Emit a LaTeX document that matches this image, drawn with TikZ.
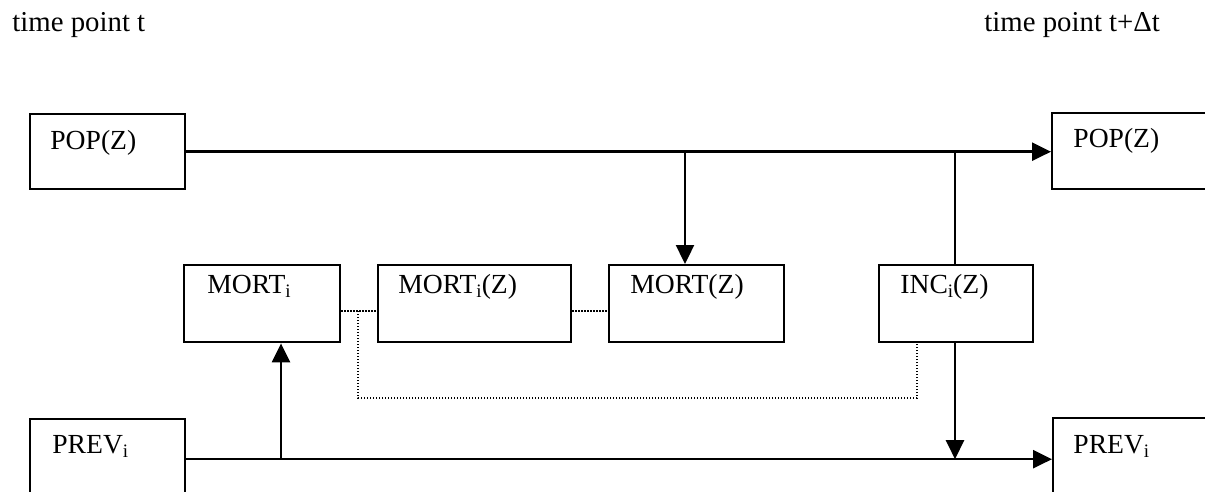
\documentclass[tikz,border=0pt]{standalone}
\usepackage{fontspec}
\setmainfont{Liberation Serif}
\usetikzlibrary{arrows.meta}
\newcommand{\sbi}{\raisebox{-0.35ex}{\fontsize{9.5}{10}\selectfont i}}
\begin{document}
\begin{tikzpicture}[x=0.5pt,y=-0.5pt,
  box/.style={draw,line width=1.2pt,inner sep=0,anchor=north west,rectangle},
  lbl/.style={anchor=base west,inner sep=0,font=\fontsize{13.8}{16}\selectfont},
  conn/.style={line width=1.2pt},
  arr/.style={conn,-{Triangle[length=9.5pt,width=9pt]}},
  dot/.style={line width=0.8pt,dash pattern=on 0.7pt off 0.8pt}]
\useasboundingbox (0,0) rectangle (1205,492);
\clip (0,0) rectangle (1205,492);
% boxes
\node[box,minimum width=77.5pt,minimum height=37.5pt] (popL) at (29,113) {};
\node[box,minimum width=85pt,minimum height=38pt] (popR) at (1051,112) {};
\node[box,minimum width=78pt,minimum height=38.5pt] (mortI) at (183,264) {};
\node[box,minimum width=96.5pt,minimum height=38.5pt] (mortIZ) at (377,264) {};
\node[box,minimum width=87.5pt,minimum height=38.5pt] (mortZ) at (608,264) {};
\node[box,minimum width=77pt,minimum height=38.5pt] (inc) at (878,264) {};
\node[box,minimum width=77.5pt,minimum height=40pt] (prevL) at (29,418) {};
\node[box,minimum width=85pt,minimum height=40pt] (prevR) at (1052,417) {};
% labels
\node[lbl,font=\fontsize{14.4}{16}\selectfont] (tL) at (12,32) {time point t};
\node[lbl,font=\fontsize{14.4}{16}\selectfont] (tR) at (984,32) {time point t+Δt};
\node[lbl] (lPopL) at (50,149) {POP(Z)};
\node[lbl] (lPopR) at (1073,148) {POP(Z)};
\node[lbl] (lMortI) at (207,293) {MORT\sbi};
\node[lbl] (lMortIZ) at (398,293) {MORT\sbi(Z)};
\node[lbl] (lMortZ) at (630,293) {MORT(Z)};
\node[lbl] (lInc) at (900,293) {INC\sbi(Z)};
\node[lbl] (lPrevL) at (52,453) {PREV\sbi};
\node[lbl] (lPrevR) at (1073,453) {PREV\sbi};
% junctions
\coordinate (j1) at (685,151);
\coordinate (j2) at (955,151);
\coordinate (j3) at (281,457);
\coordinate (d1) at (358,311);
\coordinate (d2) at (917,398);
% connectors
\draw[arr] (popL.east) -- (popR.west |- popL.east);
\draw[arr] (j1 |- popL.east) -- (j1 |- mortZ.north);
\draw[conn] (j2 |- popL.east) -- (j2 |- inc.north);
\draw[arr] (j2 |- inc.south) -- (j2 |- prevL.east);
\draw[arr] (prevL.east) -- (prevR.west |- prevL.east);
\draw[arr] (j3 |- prevL.east) -- (j3 |- mortI.south);
\draw[dot] (mortI.east |- d1) -- (mortIZ.west |- d1);
\draw[dot] (mortIZ.east |- d1) -- (mortZ.west |- d1);
\draw[dot] (d1) -- (d1 |- d2) -- (d2) -- (d2 |- inc.south);
\end{tikzpicture}
\end{document}
